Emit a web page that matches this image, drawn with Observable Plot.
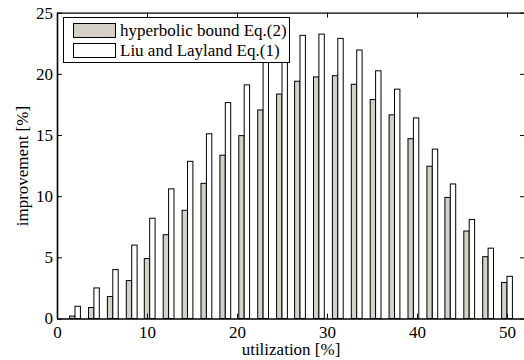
<!DOCTYPE html>
<html><head><meta charset="utf-8">
<script src="https://cdn.jsdelivr.net/npm/d3@7"></script>
<script src="https://cdn.jsdelivr.net/npm/@observablehq/plot@0.6"></script>
<style>
html,body{margin:0;padding:0;background:#fff;overflow:hidden}
#wrap{position:relative;width:524px;height:360px;font-family:"Liberation Serif",serif}
#wrap svg, #wrap svg text{font-family:"Liberation Serif",serif !important}
.lg{position:absolute;box-sizing:border-box}
.lt{position:absolute;font-size:17px;line-height:17px;white-space:nowrap;color:#000}
</style>
</head><body>
<div id="wrap"></div>
<script>
// utilization [%] (group positions)
const utilization = [2.0, 4.1, 6.2, 8.3, 10.3, 12.4, 14.5, 16.6, 18.7, 20.8, 22.9, 25.0,
                     27.0, 29.1, 31.2, 33.3, 35.4, 37.5, 39.6, 41.7, 43.7, 45.8, 47.9, 50.0];
// improvement [%] – hyperbolic bound Eq.(2)
const hyperbolic = [0.2, 0.9, 1.8, 3.1, 4.9, 6.85, 8.85, 11.05, 13.35, 14.95, 17.05, 18.35,
                    19.4, 19.75, 19.85, 19.15, 17.9, 16.65, 14.7, 12.45, 9.9, 7.15, 5.05, 2.95];
// improvement [%] – Liu and Layland Eq.(1)
const liuLayland = [1.0, 2.5, 4.0, 6.0, 8.2, 10.6, 12.85, 15.1, 17.65, 19.1, 21.3, 22.4,
                    23.15, 23.25, 22.9, 21.95, 20.25, 18.75, 16.4, 13.85, 11.0, 8.1, 5.75, 3.45];
const seriesNames = ["hyperbolic bound Eq.(2)", "Liu and Layland Eq.(1)"];
const xTicks = [0, 10, 20, 30, 40, 50];
const yTicks = [0, 5, 10, 15, 20, 25];
const xLabel = "utilization [%]";
const yLabel = "improvement [%]";

const grayFill = "#d4d0c8";
const bw = 0.6; // bar width in x units
const ff = "Liberation Serif";

const rows = [];
utilization.forEach((u, i) => {
  rows.push({s: seriesNames[0], x1: u - bw, x2: u, v: hyperbolic[i]});
  rows.push({s: seriesNames[1], x1: u, x2: u + bw, v: liuLayland[i]});
});

const xMax = 52, yMax = 25;
const chart = Plot.plot({
  width: 524, height: 360,
  marginLeft: 57, marginRight: 0, marginTop: 12.7, marginBottom: 41.5,
  style: {fontFamily: ff, fontSize: "17px", color: "#000", background: "#fff", overflow: "visible"},
  x: {domain: [0, xMax], range: [57, 525]},
  y: {domain: [0, yMax], range: [318.5, 12.7]},
  marks: [
    Plot.rectY(rows, {x1: "x1", x2: "x2", y1: 0, y2: "v",
      fill: d => d.s === seriesNames[0] ? grayFill : "#fff", stroke: "#000", strokeWidth: 1}),
    // frame
    Plot.ruleY([0], {x1: 0, x2: xMax, stroke: "#000", strokeWidth: 1.6}),
    Plot.ruleY([yMax], {x1: 0, x2: xMax, stroke: "#000", strokeWidth: 1.2}),
    Plot.ruleX([0], {y1: 0, y2: yMax, stroke: "#000", strokeWidth: 1.6}),
    // inward ticks
    Plot.ruleY(yTicks, {y: d => d, x1: 0, x2: 0.55, stroke: "#000", strokeWidth: 1}),
    Plot.ruleY(yTicks, {y: d => d, x1: xMax - 0.55, x2: xMax, stroke: "#000", strokeWidth: 1}),
    Plot.ruleX(xTicks, {x: d => d, y1: 0, y2: 0.4, stroke: "#000", strokeWidth: 1}),
    Plot.ruleX(xTicks, {x: d => d, y1: yMax - 0.4, y2: yMax, stroke: "#000", strokeWidth: 1}),
    Plot.axisX(xTicks, {tickSize: 0, tickPadding: 7, label: null, fontSize: 17, fontFamily: ff}),
    Plot.axisY(yTicks, {tickSize: 0, tickPadding: 4.5, label: null, fontSize: 17, fontFamily: ff}),
    Plot.text([xLabel], {frameAnchor: "bottom", dy: 31, text: d => d, textAnchor: "middle", lineAnchor: "middle", fontSize: 17, fontFamily: ff}),
    Plot.text([yLabel], {frameAnchor: "left", dx: -35, rotate: -90, text: d => d, textAnchor: "middle", lineAnchor: "middle", fontSize: 17, fontFamily: ff})
  ]
});
const wrap = document.getElementById("wrap");
wrap.appendChild(chart);

// legend overlay
function box(l, t, w, h, border, bg) {
  const d = document.createElement("div");
  d.className = "lg";
  Object.assign(d.style, {left: l + "px", top: t + "px", width: w + "px", height: h + "px", border: border, background: bg});
  wrap.appendChild(d);
}
function txt(l, t, s) {
  const d = document.createElement("div");
  d.className = "lt";
  d.style.left = l + "px"; d.style.top = t + "px";
  d.textContent = s;
  wrap.appendChild(d);
}
box(63, 17, 227, 46, "1.5px solid #000", "#fff");
box(73, 23, 43, 15, "1px solid #000", grayFill);
box(73, 43, 43, 15, "1px solid #000", "#fff");
txt(120, 22.4, seriesNames[0]);
txt(120, 42.4, seriesNames[1]);
</script>
</body></html>
